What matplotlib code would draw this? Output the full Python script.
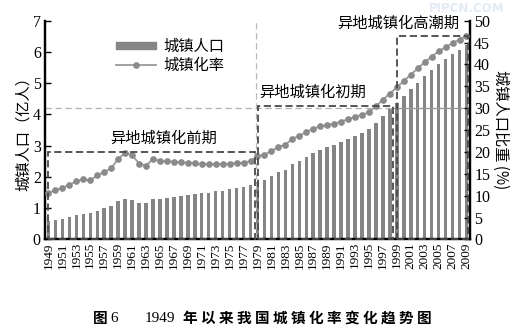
import matplotlib
matplotlib.use("Agg")
import matplotlib.pyplot as plt
from matplotlib.patches import Rectangle, Patch
from matplotlib.lines import Line2D

plt.rcParams["font.family"] = ["Liberation Serif", "Noto Sans CJK SC"]
CJK = ["Noto Sans CJK SC", "DejaVu Sans"]

years = list(range(1949, 2010))
# 城镇人口（万人）
urban_pop = [5765, 6169, 6632, 7163, 7826, 8249, 8285, 9185, 9949, 10721,
             12371, 13073, 12707, 11659, 11646, 12950, 13045, 13313, 13548, 13838,
             14117, 14424, 14711, 14935, 15345, 15595, 16030, 16341, 16669, 17245,
             18495, 19140, 20171, 21480, 22274, 24017, 25094, 26366, 27674, 28661,
             29540, 30195, 31203, 32175, 33173, 34169, 35174, 37304, 39449, 41608,
             43748, 45906, 48064, 50212, 52376, 54283, 56212, 57706, 59379, 60667,
             62186]
# 城镇化率（%）
urban_rate = [10.64, 11.18, 11.78, 12.46, 13.31, 13.69, 13.48, 14.62, 15.39, 16.25,
              18.41, 19.75, 19.29, 17.33, 16.84, 18.37, 17.98, 17.86, 17.74, 17.62,
              17.50, 17.38, 17.26, 17.13, 17.20, 17.16, 17.34, 17.44, 17.55, 17.92,
              18.96, 19.39, 20.16, 21.13, 21.62, 23.01, 23.71, 24.52, 25.32, 25.81,
              26.21, 26.41, 26.94, 27.46, 27.99, 28.51, 29.04, 30.48, 31.91, 33.35,
              34.78, 36.22, 37.66, 39.09, 40.53, 41.76, 42.99, 43.90, 44.94, 45.68,
              46.59]
tick_years = years[::2]
# 阶段框（x 为年份序号，顶部为城镇化率 %）
phases = [("异地城镇化前期", -0.07, 29.63, 20.0),
          ("异地城镇化初期", 30.06, 49.4, 30.4),
          ("异地城镇化高潮期", 50.0, 60.2, 46.4)]


def main():
    fig = plt.figure(figsize=(5.25, 3.32), dpi=100, facecolor="white")
    ax = fig.add_axes([0.0857, 0.279, 0.8095, 0.6587])
    ax2 = ax.twinx()
    idx = list(range(len(years)))

    ax.bar(idx, [p / 10000 for p in urban_pop], width=0.5, color="#858585", zorder=2)
    ax2.plot(idx, urban_rate, "-o", color="#9a9a9a", mfc="#8a8a8a", mec="#8a8a8a",
             ms=3.8, lw=1.3, zorder=4)

    ax.set_xlim(-0.5, 60.5)
    ax.set_ylim(0, 7)
    ax2.set_ylim(0, 50)
    ax.set_xticks([years.index(y) for y in tick_years])
    ax.set_xticklabels([str(y) for y in tick_years], rotation=90, fontsize=9.5)
    ax.set_yticks(range(8))
    ax2.set_yticks(range(0, 51, 5))
    ax.tick_params(axis="y", direction="in", labelsize=11.5, length=4, width=1, pad=3)
    ax2.tick_params(axis="y", direction="in", labelsize=11.5, length=4, width=1, pad=3)
    ax.tick_params(axis="x", length=0, pad=2)
    for a in (ax, ax2):
        a.spines["top"].set_visible(False)
        for s in ("left", "right", "bottom"):
            a.spines[s].set_linewidth(1.6)
    ax.set_ylabel("城镇人口（亿人）", family=CJK, fontsize=11, labelpad=1)
    ax2.set_ylabel("城镇人口比重 (%)", family=CJK, fontsize=11, rotation=-90, labelpad=14)

    # 参考线
    ax2.axhline(30, color="#b0b0b0", lw=0.9, ls=(0, (5, 3)), zorder=1)
    ax2.plot([49.4, 60.5], [30, 30], color="#999999", lw=0.9, zorder=1)
    ax2.axvline(29.8, color="#b8b8b8", lw=0.9, ls=(0, (5, 3)), zorder=1)

    # 阶段框
    for label, x0, x1, top in phases:
        ax2.add_patch(Rectangle((x0, 0), x1 - x0, top, fill=False, ec="#4a4a4a",
                                lw=1.3, ls=(0, (4, 2)), zorder=5, clip_on=False))
    ax2.text(16.5, 21.2, phases[0][0], family=CJK, fontsize=11, ha="center", va="bottom")
    ax2.text(30.3, 31.6, phases[1][0], family=CJK, fontsize=11, ha="left", va="bottom")
    ax2.text(50.2, 47.5, phases[2][0], family=CJK, fontsize=11, ha="center", va="bottom")

    handles = [Patch(color="#858585"),
               Line2D([], [], color="#9a9a9a", marker="o", ms=3.8, mfc="#8a8a8a",
                      mec="#8a8a8a", lw=1.3)]
    ax2.legend(handles, ["城镇人口", "城镇化率"], loc="upper left",
               bbox_to_anchor=(0.135, 0.985), frameon=False, handlelength=2.6,
               handleheight=0.35, handletextpad=0.5, labelspacing=0.15,
               prop={"family": CJK, "size": 11})

    fig.text(467 / 525, 1 - 8 / 332, "PIPCN.COM", color="#e3ebf5", fontsize=8.5,
             weight="bold", family="DejaVu Sans", ha="center", va="center")

    # 图题（逐字排开）
    cy = 1 - 318 / 332
    fig.text(100 / 525, cy, "图", fontsize=10.5, family=CJK, weight="bold",
             ha="center", va="center")
    fig.text(114 / 525, cy, "6", fontsize=11, ha="center", va="center")
    fig.text(160 / 525, cy, "1949", fontsize=11, ha="center", va="center")
    for i, ch in enumerate("年以来我国城镇化率变化趋势图"):
        fig.text((190 + 18 * i) / 525, cy, ch, fontsize=10.5, family=CJK,
                 weight="bold", ha="center", va="center")

    fig.savefig("out.png", dpi=100, facecolor="white")


if __name__ == "__main__":
    main()
